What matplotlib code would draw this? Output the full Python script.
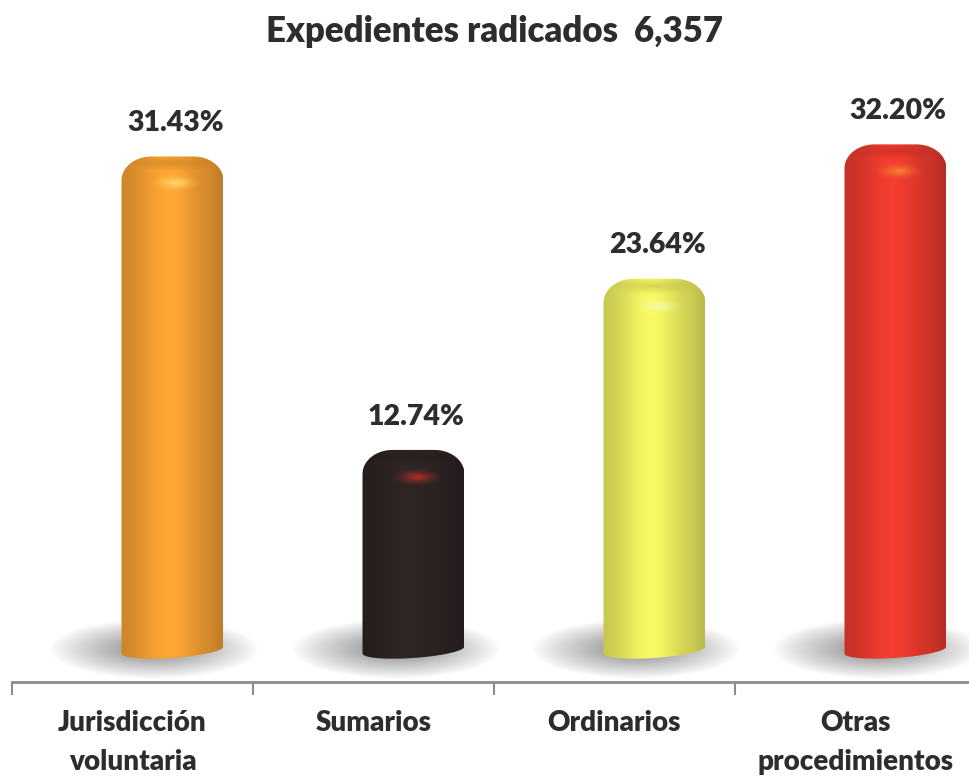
import matplotlib.pyplot as plt
import numpy as np
from matplotlib.patches import Polygon
from matplotlib.colors import to_rgb

# datos
categorias = ['Jurisdicción\nvoluntaria', 'Sumarios', 'Ordinarios', 'Otras\nprocedimientos']
porcentajes = [31.43, 12.74, 23.64, 32.20]
etiquetas = ['31.43%', '12.74%', '23.64%', '32.20%']
colores = ['#F6A032', '#2E2424', '#EEF060', '#EC3B2F']
brillos = ['#FFE070', '#C0302A', '#F8FAB0', '#F58A30']
titulo = 'Expedientes radicados  6,357'

W, H = 970, 776
fig = plt.figure(figsize=(W / 100, H / 100), dpi=100)
# ejes en pixeles: eje x en y=682, categorias de 241 px desde x=12
ax_l, ax_r, ax_b, ax_t = 12, 976, 682, 80
ax = fig.add_axes([ax_l / W, 1 - ax_b / H, (ax_r - ax_l) / W, (ax_b - ax_t) / H])
y_min, y_max = -2.04, 36.3
sx = (ax_r - ax_l) / 4.0          # px por unidad x
sy = (ax_b - ax_t) / (y_max - y_min)  # px por unidad y

texto = '#2D2D2D'
fuente = 'Lato'
peso = 'heavy'


def sombreado(color, n=200):
    t = np.linspace(0, 1, n)
    f = 0.82 + 0.22 * np.exp(-((t - 0.47) / 0.30) ** 2)
    f = f - 0.05 * (t > 0.85) * (t - 0.85) / 0.15
    rgb = np.clip(np.outer(f, to_rgb(color)), 0, 1)
    return rgb[np.newaxis, :, :]


def mancha(color, nx, ny, alfa, q=2.0):
    # mancha eliptica que se desvanece hasta cero en el borde
    xx = np.linspace(-1, 1, nx)
    yy = np.linspace(-1, 1, ny)
    X, Y = np.meshgrid(xx, yy)
    r = np.sqrt(X ** 2 + Y ** 2)
    a = alfa * np.clip(1 - r, 0, 1) ** q
    img = np.zeros((ny, nx, 4))
    img[..., :3] = to_rgb(color)
    img[..., 3] = a
    return img


desp = 40 / sx
hw = 51 / sx
rx = 30 / sx
ry = 24 / sy
eb = 8 / sy
incl = 3.5 / sy

for i, (v, c, b) in enumerate(zip(porcentajes, colores, brillos)):
    xc = i + desp
    xl, xr = xc - hw, xc + hw

    # sombra
    sw, sh = 105 / sx, 30 / sy
    sc = xc - 18 / sx
    ax.imshow(mancha('#7A7A7A', 200, 80, 0.9, q=0.9), extent=[sc - sw, sc + sw, -sh + 1 / sy, sh + 1 / sy],
              aspect='auto', zorder=1, interpolation='bilinear')

    # contorno del cilindro
    th = np.linspace(np.pi, np.pi / 2, 20)
    arco_i = np.c_[xl + rx + rx * np.cos(th), v - ry + ry * np.sin(th)]
    th = np.linspace(np.pi / 2, 0, 20)
    arco_d = np.c_[xr - rx + rx * np.cos(th), v - ry + ry * np.sin(th)]
    th = np.linspace(0, -np.pi, 40)
    base = np.c_[xc + hw * np.cos(th), eb * np.sin(th) + incl * np.cos(th)]
    pts = np.vstack([arco_i, arco_d, base])
    forma = Polygon(pts, closed=True, fc='none', ec='none', zorder=2)
    ax.add_patch(forma)

    im = ax.imshow(sombreado(c), extent=[xl, xr, -eb - incl, v], aspect='auto', zorder=2,
                   interpolation='bilinear')
    im.set_clip_path(forma)

    # cara superior un poco mas oscura
    ts = mancha('#000000', 80, 40, 0.14, q=1.0)
    im2 = ax.imshow(ts, extent=[xl + 8 / sx, xr - 8 / sx, v - 16 / sy, v + 2 / sy], aspect='auto',
                    zorder=3, interpolation='bilinear')
    im2.set_clip_path(forma)

    # brillo
    bw, bh = 28 / sx, 10 / sy
    yb = v - 27 / sy
    im3 = ax.imshow(mancha(b, 60, 30, 0.95, q=1.6), extent=[xc + 4 / sx - bw, xc + 4 / sx + bw, yb - bh, yb + bh],
                    aspect='auto', zorder=3, interpolation='bilinear')
    im3.set_clip_path(forma)

    ax.annotate(etiquetas[i], (xc, v), xytext=(2, 24), textcoords='offset points',
                ha='center', va='center', fontsize=20.5, fontweight=peso, color=texto, family=fuente)

ax.set_xlim(-0.5, 3.5)
ax.set_ylim(y_min, y_max)
ax.set_xticks([i + 0.5 for i in range(-1, 4)])
ax.set_xticklabels([])
ax.tick_params(axis='x', direction='out', length=9, width=1.5, color='#8C8C8C')
ax.tick_params(axis='y', left=False, labelleft=False)
for s in ['top', 'right', 'left']:
    ax.spines[s].set_visible(False)
ax.spines['bottom'].set_color('#8C8C8C')
ax.spines['bottom'].set_linewidth(2)

for i, cat in enumerate(categorias):
    ax.text(i, y_min - 28 / sy, cat, ha='center', va='top',
            fontsize=20, fontweight=peso, color=texto, family=fuente,
            linespacing=1.6)

fig.text(0.5 + 10 / W, 1 - 32 / H, titulo, ha='center', va='center', fontsize=25,
         fontweight=peso, color=texto, family=fuente)

fig.savefig('out.png', dpi=100, facecolor='white')
